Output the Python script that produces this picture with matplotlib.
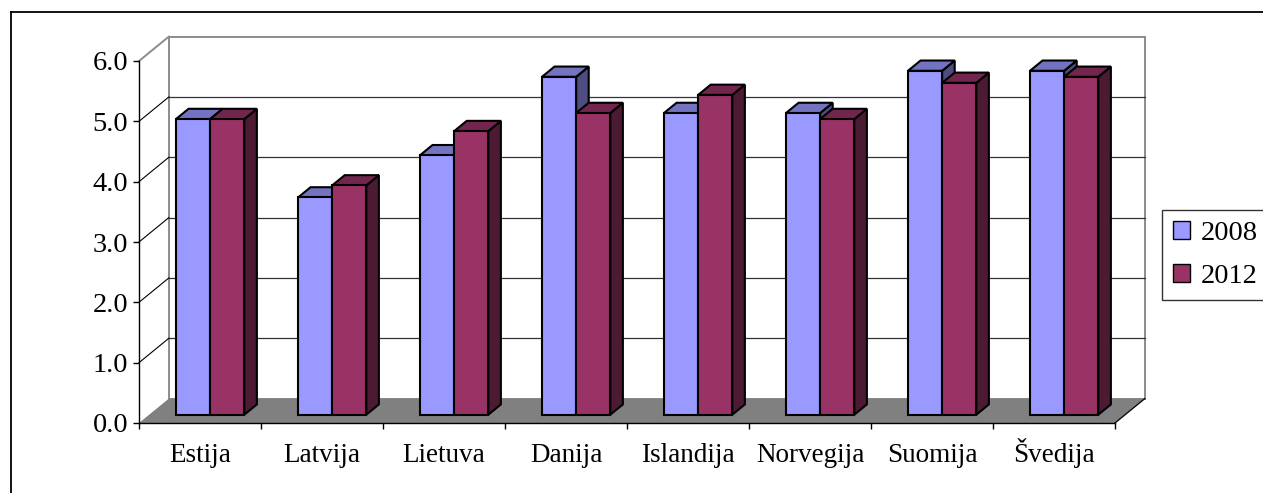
"""
Grouped "3-D" column chart, 2008 vs 2012, for the Baltic and Nordic countries.
Drawn with plain 2-D matplotlib: front faces with ax.bar, top/side faces and
the walls/floor as polygons offset by a fixed oblique depth.
"""
import matplotlib.pyplot as plt
from matplotlib.patches import Polygon, Patch
from matplotlib.lines import Line2D
from matplotlib.colors import to_rgb

countries = ["Estija", "Latvija", "Lietuva", "Danija", "Islandija",
             "Norvegija", "Suomija", "Švedija"]
values_2008 = [4.9, 3.6, 4.3, 5.6, 5.0, 5.0, 5.7, 5.7]
values_2012 = [4.9, 3.8, 4.7, 5.0, 5.3, 4.9, 5.5, 5.6]
series_names = ["2008", "2012"]
y_ticks = [0, 1, 2, 3, 4, 5, 6]

FRONT = {"2008": "#9999FF", "2012": "#993366"}

# oblique depth of the plot box, in data units (x: categories, y: value)
DX, DY = 0.245, 0.405
BAR_W = 0.28
BAR_Z0 = 0.34     # where the bars start along the depth
BAR_DEPTH = 0.42  # how deep the bars are
YMAX = 6

plt.rcParams["font.family"] = ["Liberation Serif", "DejaVu Serif"]
FS = 19.5

W, H = 1263, 493
fig = plt.figure(figsize=(W / 100, H / 100), dpi=100)
ax = fig.add_axes([139 / W, 1 - 423 / H, (1115 - 139) / W, (423 - 61) / H])
n = len(countries)
ax.set_xlim(0, n)
ax.set_ylim(0, YMAX)


def shade(color, k):
    r, g, b = to_rgb(color)
    return (r * k, g * k, b * k)


def poly(pts, **kw):
    p = Polygon(pts, closed=True, clip_on=False, **kw)
    ax.add_patch(p)
    return p


# floor
poly([(0, 0), (n, 0), (n + DX, DY), (DX, DY)], facecolor="#808080",
     edgecolor="none", zorder=1)
ax.plot([n, n + DX], [0, DY], color="black", lw=0.9, clip_on=False, zorder=2)

# back wall and left wall
poly([(DX, DY), (n + DX, DY), (n + DX, YMAX + DY), (DX, YMAX + DY)],
     facecolor="white", edgecolor="#8c8c8c", lw=1.4, zorder=0.5)
ax.plot([0, DX], [YMAX, YMAX + DY], color="#8c8c8c", lw=1.4,
        clip_on=False, zorder=0.6)

# gridlines on both walls
for t in y_ticks[1:-1]:
    ax.plot([DX, n + DX], [t + DY, t + DY], color="#333333", lw=0.9,
            clip_on=False, zorder=0.7)
    ax.plot([0, DX], [t, t + DY], color="black", lw=0.8,
            clip_on=False, zorder=0.7)

# bars
edge = dict(edgecolor="black", linewidth=1.5)
z = 3
for i in range(n):
    for s, (name, vals) in enumerate(zip(series_names, [values_2008, values_2012])):
        v = vals[i]
        x0 = i + 0.5 + (s - 1) * BAR_W + BAR_Z0 * DX
        y0 = BAR_Z0 * DY
        top = y0 + v
        bx, by = BAR_DEPTH * DX, BAR_DEPTH * DY
        front = FRONT[name]
        # side face
        poly([(x0 + BAR_W, y0), (x0 + BAR_W + bx, y0 + by),
              (x0 + BAR_W + bx, top + by), (x0 + BAR_W, top)],
             facecolor=shade(front, 0.5), zorder=z, **edge)
        # top face
        poly([(x0, top), (x0 + BAR_W, top), (x0 + BAR_W + bx, top + by),
              (x0 + bx, top + by)],
             facecolor=shade(front, 0.75), zorder=z, **edge)
        # front face
        ax.bar(x0, v, bottom=y0, width=BAR_W, align="edge", color=front,
               zorder=z + 0.5, clip_on=False, **edge)
        z += 1

# axes styling
for side in ("top", "right"):
    ax.spines[side].set_visible(False)
for side in ("left", "bottom"):
    ax.spines[side].set_color("black")
    ax.spines[side].set_linewidth(1.0)
    ax.spines[side].set_zorder(50)
ax.patch.set_visible(False)

ax.set_yticks(y_ticks)
ax.set_yticklabels([f"{t:.1f}" for t in y_ticks], fontsize=20.5)
ax.tick_params(axis="y", direction="out", length=4.3, width=1.0, pad=3.5)

ax.set_xticks(range(n + 1))
ax.set_xticklabels([])
ax.set_xticks([i + 0.5 for i in range(n)], minor=True)
ax.set_xticklabels(countries, minor=True, fontsize=FS)
ax.tick_params(axis="x", which="major", direction="out", length=4.5, width=1.0)
# align country names on a common baseline (Š would otherwise sit lower)
ax.tick_params(axis="x", which="minor", length=0, pad=28)
for lbl in ax.get_xticklabels(minor=True):
    lbl.set_va("baseline")

# legend
handles = [Patch(facecolor=FRONT[nm], edgecolor="black", linewidth=1.0)
           for nm in series_names]
leg = fig.legend(handles, series_names, loc="upper left",
                 bbox_to_anchor=(1162 / W, 1 - 210 / H), borderaxespad=0,
                 fontsize=20.5, frameon=True, fancybox=False,
                 handlelength=0.6, handleheight=0.6, handletextpad=0.35,
                 labelspacing=0.6, borderpad=0.4)
leg.get_frame().set_edgecolor("black")
leg.get_frame().set_linewidth(1.0)

# chart-area frame
fig.add_artist(Line2D([11 / W, 1.05], [1 - 12 / H, 1 - 12 / H],
                      color="black", lw=1.3, transform=fig.transFigure))
fig.add_artist(Line2D([11 / W, 11 / W], [1 - 12 / H, -0.05],
                      color="black", lw=1.3, transform=fig.transFigure))

fig.savefig("out.png", dpi=100)
